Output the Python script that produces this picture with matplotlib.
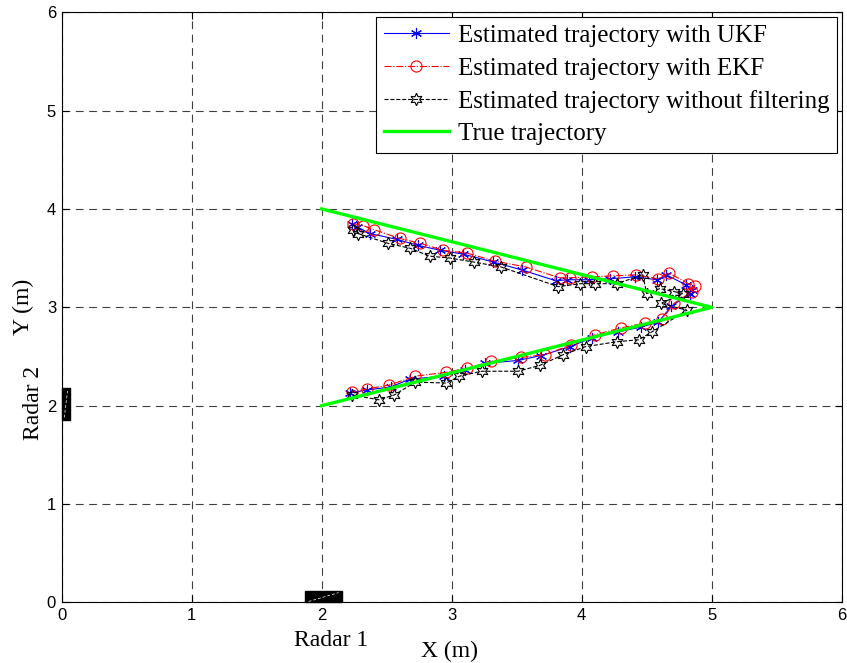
import numpy
import matplotlib
matplotlib.use("Agg")
import matplotlib.pyplot as plt
from matplotlib.patches import Rectangle

# estimated positions (x, y in metres)
ukf_x = [2.23, 2.27, 2.37, 2.58, 2.74, 2.91, 3.09, 3.32, 3.54, 3.80, 3.89, 4.06, 4.22, 4.41, 4.58, 4.65, 4.80, 4.85, 4.83, 4.69,
         4.59, 4.46, 4.28, 4.08, 3.91, 3.69, 3.51, 3.26, 3.10, 2.94, 2.68, 2.53, 2.35, 2.22]
ukf_y = [3.85, 3.82, 3.75, 3.69, 3.63, 3.58, 3.54, 3.46, 3.38, 3.27, 3.28, 3.28, 3.29, 3.31, 3.28, 3.33, 3.23, 3.18, 3.14, 3.01,
         2.85, 2.80, 2.75, 2.69, 2.60, 2.51, 2.46, 2.43, 2.36, 2.30, 2.27, 2.19, 2.16, 2.13]

ekf_x = [2.24, 2.32, 2.40, 2.60, 2.76, 2.93, 3.12, 3.33, 3.57, 3.83, 3.91, 4.08, 4.24, 4.42, 4.59, 4.67, 4.82, 4.87, 4.85, 4.71,
         4.62, 4.49, 4.30, 4.10, 3.92, 3.72, 3.53, 3.30, 3.12, 2.96, 2.72, 2.52, 2.35, 2.23]
ekf_y = [3.85, 3.83, 3.79, 3.70, 3.65, 3.58, 3.55, 3.47, 3.41, 3.30, 3.30, 3.31, 3.32, 3.33, 3.29, 3.35, 3.24, 3.22, 3.16, 3.04,
         2.88, 2.84, 2.79, 2.72, 2.62, 2.52, 2.49, 2.45, 2.38, 2.34, 2.30, 2.21, 2.17, 2.14]

raw_x = [2.24, 2.28, 2.51, 2.68, 2.83, 2.99, 3.17, 3.38, 3.82, 3.99, 4.10, 4.27, 4.47, 4.50, 4.60, 4.71, 4.78, 4.61, 4.81,
         4.54, 4.44, 4.27, 4.03, 3.86, 3.68, 3.51, 3.23, 3.06, 2.96, 2.72, 2.56, 2.44, 2.23]
raw_y = [3.79, 3.75, 3.65, 3.60, 3.52, 3.50, 3.46, 3.41, 3.21, 3.24, 3.24, 3.24, 3.33, 3.14, 3.19, 3.16, 3.14, 3.04, 2.97,
         2.75, 2.67, 2.65, 2.60, 2.52, 2.41, 2.35, 2.35, 2.30, 2.23, 2.24, 2.11, 2.06, 2.11]

true_x = [2, 5, 2]
true_y = [4, 3, 2]

labels = ["Estimated trajectory with UKF", "Estimated trajectory with EKF",
          "Estimated trajectory without filtering", "True trajectory"]

serif = "Liberation Serif"
sans = "Liberation Sans"

fig = plt.figure(figsize=(8.47, 6.63), dpi=100)
ax = fig.add_axes([0.0728, 0.0913, 0.9209, 0.8904])

ax.plot(ukf_x, ukf_y, color="blue", linewidth=0.8, marker=(6, 2, 0), markersize=8,
        markeredgewidth=0.8, label=labels[0])
ax.plot(ekf_x, ekf_y, color="red", linewidth=0.8, linestyle="-.", marker="o", markersize=8,
        markerfacecolor="none", markeredgewidth=0.8, label=labels[1])
ax.plot(raw_x, raw_y, color="black", linewidth=0.8, linestyle="--", marker=(6, 1, 0), markersize=9,
        markerfacecolor="none", markeredgewidth=0.8, label=labels[2])
ax.plot(true_x, true_y, color="#00ff00", linewidth=2.4, label=labels[3])

# radar positions
ax.add_patch(Rectangle((1.87, 0), 0.29, 0.115, facecolor="black", edgecolor="black", clip_on=False, zorder=5))
ax.plot([1.9, 2.13], [0.01, 0.1], color="white", linewidth=0.5, linestyle=(0, (4, 3)), zorder=6)
ax.add_patch(Rectangle((0, 1.855), 0.064, 0.322, facecolor="black", edgecolor="black", clip_on=False, zorder=5))
ax.plot([0.02, 0.045], [1.88, 2.15], color="white", linewidth=0.5, linestyle=(0, (4, 3)), zorder=6)

ax.text(2.075, -0.39, "Radar 1", fontfamily=serif, fontsize=17, ha="center", va="center", clip_on=False)
ax.text(-0.22, 2.03, "Radar 2", fontfamily=serif, fontsize=17, ha="center", va="center",
        rotation=90, clip_on=False)

ax.set_xlim(0, 6)
ax.set_ylim(0, 6)
ax.set_xticks(range(7))
ax.set_yticks(range(7))
ax.tick_params(direction="in", top=True, right=True, length=5, width=0.8, labelsize=12, pad=4)
for lab in ax.get_xticklabels() + ax.get_yticklabels():
    lab.set_fontfamily(sans)
ax.grid(True, color="0.25", linestyle=(0, (7, 5)), linewidth=0.8)
for sp in ax.spines.values():
    sp.set_linewidth(0.8)

fig.text(449 / 847, 1 - 651 / 663, "X (m)", fontfamily=serif, fontsize=17, ha="center", va="center")
fig.text(23 / 847, 1 - 307 / 663, "Y (m)", fontfamily=serif, fontsize=17, ha="center", va="center", rotation=90)

leg = ax.legend(loc="upper right", prop={"family": serif, "size": 18}, fancybox=False,
                edgecolor="black", framealpha=1, borderaxespad=0.2, handlelength=2.6,
                handletextpad=0.35, labelspacing=0.4, borderpad=0.3)
leg.get_frame().set_linewidth(0.8)

fig.savefig("out.png", dpi=100)
